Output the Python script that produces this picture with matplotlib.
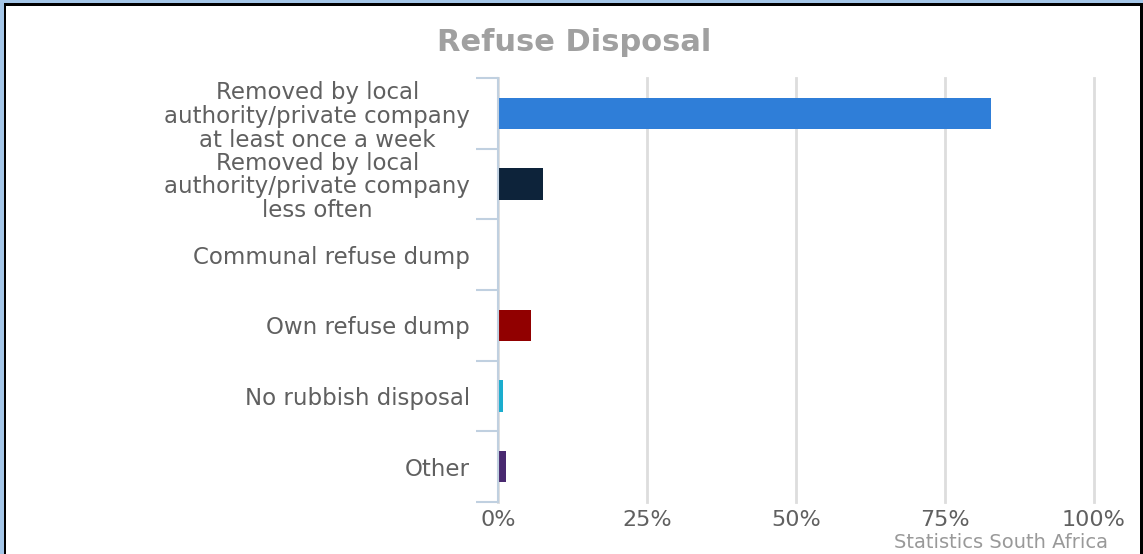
import matplotlib.pyplot as plt
from matplotlib.patches import Rectangle

# Refuse disposal shares (percent of households)
categories = [
    "Removed by local\nauthority/private company\nat least once a week",
    "Removed by local\nauthority/private company\nless often",
    "Communal refuse dump",
    "Own refuse dump",
    "No rubbish disposal",
    "Other",
]
shares = [82.7, 7.5, 0.0, 5.5, 0.8, 1.3]
bar_colors = ["#2f7ed8", "#0d233a", "#8bbc21", "#910000", "#1aadce", "#492970"]
x_ticks = [0, 25, 50, 75, 100]
x_labels = ["0%", "25%", "50%", "75%", "100%"]

fig = plt.figure(figsize=(11.43, 5.54), dpi=100, facecolor="white")
ax = fig.add_axes([0.4357, 0.0939, 0.5214, 0.7653])

ypos = range(len(categories))
ax.barh(ypos, shares, height=0.44, color=bar_colors, zorder=3)

ax.set_xlim(0, 100)
ax.set_ylim(len(categories) - 0.5, -0.5)

# labels on category centres, tick marks on category boundaries
ax.set_yticks(list(ypos))
ax.set_yticklabels(categories, fontsize=16.5, color="#606060",
                   family="DejaVu Sans", linespacing=1.05, ma="center")
ax.set_yticks([i - 0.5 for i in range(len(categories) + 1)], minor=True)
ax.tick_params(axis="y", which="major", length=0, pad=20)
ax.tick_params(axis="y", which="minor", length=16, width=1.5, color="#c0d0e0")

ax.set_xticks(x_ticks)
ax.set_xticklabels(x_labels, fontsize=16, color="#606060", family="DejaVu Sans")
ax.tick_params(axis="x", length=0, pad=6)
ax.grid(axis="x", color="#dddddd", linewidth=2, zorder=0)
for gl in ax.get_xgridlines():
    gl.set_clip_on(False)

for side in ["top", "right", "bottom"]:
    ax.spines[side].set_visible(False)
ax.spines["left"].set_color("#c0d0e0")
ax.spines["left"].set_linewidth(1.5)
ax.spines["left"].set_zorder(4)

fig.text(0.502, 0.924, "Refuse Disposal", ha="center", va="center",
         fontsize=22, fontweight="bold", color="#a0a0a0", family="DejaVu Sans")
fig.text(0.969, 0.003, "Statistics South Africa", ha="right", va="bottom",
         fontsize=14, color="#999999", family="DejaVu Sans")

# frame around the panel
W, H = 1143, 554
fig.patches.append(Rectangle((0, 0), 3.5 / W, 1, transform=fig.transFigure,
                             facecolor="#a4c6e8", edgecolor="none"))
fig.patches.append(Rectangle((0, 1 - 3 / H), 1, 3 / H, transform=fig.transFigure,
                             facecolor="#a4c6e8", edgecolor="none"))
fig.patches.append(Rectangle((3.5 / W, 0), 2.5 / W, 1 - 3 / H, transform=fig.transFigure,
                             facecolor="black", edgecolor="none"))
fig.patches.append(Rectangle((3.5 / W, 1 - 6 / H), 1, 3 / H, transform=fig.transFigure,
                             facecolor="black", edgecolor="none"))
fig.patches.append(Rectangle((1 - 3 / W, 0), 3 / W, 1 - 3 / H, transform=fig.transFigure,
                             facecolor="black", edgecolor="none"))

fig.savefig("out.png", dpi=100, facecolor="white")
